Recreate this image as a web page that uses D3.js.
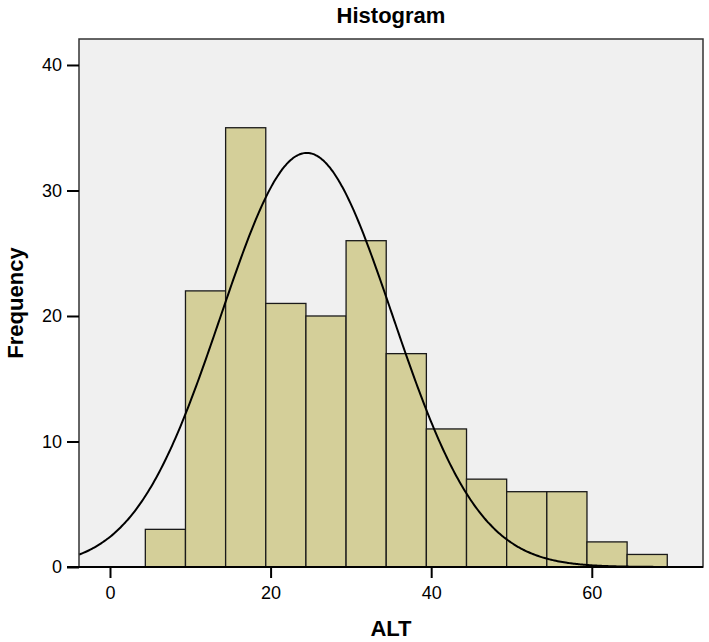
<!DOCTYPE html>
<html>
<head>
<meta charset="utf-8">
<script src="https://cdn.jsdelivr.net/npm/d3@7"></script>
<style>
  body { margin: 0; background: #fff; }
  svg text { font-family: "Liberation Sans", Arial, sans-serif; fill: #000; }
</style>
</head>
<body>
<svg class="main" width="709" height="642"></svg>
<script>
// histogram bins (ALT), width 5
var BIN_START = [4.4, 9.4, 14.4, 19.4, 24.4, 29.4, 34.4, 39.4, 44.4, 49.4, 54.4, 59.4, 64.4];
var BIN_WIDTH = 5;
var COUNTS = [3, 22, 35, 21, 20, 26, 17, 11, 7, 6, 6, 2, 1];
var X_TICKS = [0, 20, 40, 60];
var Y_TICKS = [0, 10, 20, 30, 40];
// fitted normal curve parameters
var MEAN = 24.5;
var SD = 10.7;

function drawChart() {
  var svg = d3.select("svg.main");
  var plotL = 79, plotR = 703, plotT = 39, plotB = 567;

  var x = d3.scaleLinear().domain([-3.86, 73.85]).range([plotL, plotR]);
  var y = d3.scaleLinear().domain([0, 42.07]).range([plotB, plotT]);

  // plot background
  svg.append("rect")
    .attr("x", plotL).attr("y", plotT)
    .attr("width", plotR - plotL).attr("height", plotB - plotT)
    .attr("fill", "#f0f0f0");

  // bars
  svg.append("g").selectAll("rect")
    .data(COUNTS)
    .enter().append("rect")
    .attr("x", function(d, i) { return x(BIN_START[i]); })
    .attr("y", function(d) { return y(d); })
    .attr("width", function(d, i) { return x(BIN_START[i] + BIN_WIDTH) - x(BIN_START[i]); })
    .attr("height", function(d) { return y(0) - y(d); })
    .attr("fill", "#d4cf99")
    .attr("stroke", "#1a1a1a")
    .attr("stroke-width", 1.3);

  // normal curve
  var n = d3.sum(COUNTS);
  var xs = d3.range(-3.86, 73.85, 0.2);
  var line = d3.line()
    .x(function(d) { return x(d); })
    .y(function(d) {
      var z = (d - MEAN) / SD;
      return y(n * BIN_WIDTH / (SD * Math.sqrt(2 * Math.PI)) * Math.exp(-0.5 * z * z));
    })
    .curve(d3.curveBasis);
  svg.append("path")
    .datum(xs)
    .attr("d", line)
    .attr("fill", "none")
    .attr("stroke", "#000")
    .attr("stroke-width", 2);

  // frame
  svg.append("rect")
    .attr("x", plotL).attr("y", plotT)
    .attr("width", plotR - plotL).attr("height", plotB - plotT)
    .attr("fill", "none")
    .attr("stroke", "#333")
    .attr("stroke-width", 1.5);

  // x axis
  var xAxis = svg.append("g")
    .attr("transform", "translate(0," + plotB + ")")
    .call(d3.axisBottom(x).tickValues(X_TICKS).tickSize(11).tickPadding(8));
  xAxis.select(".domain").remove();
  xAxis.append("line")
    .attr("x1", 67).attr("x2", plotR)
    .attr("stroke", "#000").attr("stroke-width", 2);

  // y axis
  var yAxis = svg.append("g")
    .attr("transform", "translate(" + plotL + ",0)")
    .call(d3.axisLeft(y).tickValues(Y_TICKS).tickSize(12).tickPadding(5));
  yAxis.select(".domain").remove();

  svg.selectAll(".tick line").attr("stroke", "#000").attr("stroke-width", 2);
  svg.selectAll(".tick text")
    .attr("fill", "#000")
    .style("font-family", "'Liberation Sans', Arial, sans-serif")
    .style("font-size", "18px");

  // titles
  svg.append("text")
    .attr("x", (plotL + plotR) / 2).attr("y", 23)
    .attr("text-anchor", "middle")
    .style("font-size", "22px").style("font-weight", "bold")
    .text("Histogram");

  svg.append("text")
    .attr("x", (plotL + plotR) / 2).attr("y", 636)
    .attr("text-anchor", "middle")
    .style("font-size", "22px").style("font-weight", "bold")
    .text("ALT");

  svg.append("text")
    .attr("transform", "translate(23," + (plotT + plotB) / 2 + ") rotate(-90)")
    .attr("text-anchor", "middle")
    .style("font-size", "22px").style("font-weight", "bold")
    .text("Frequency");
}

drawChart();
</script>
</body>
</html>
